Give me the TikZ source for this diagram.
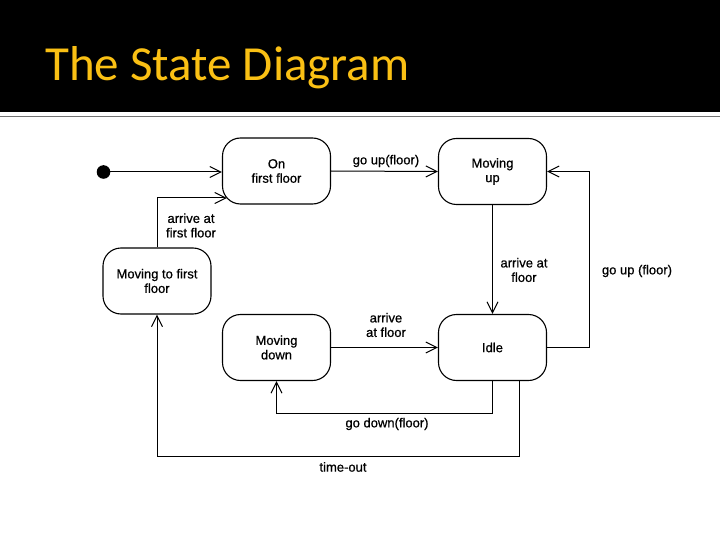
\documentclass[tikz,border=0pt]{standalone}
\usepackage{fontspec}
\setmainfont{Liberation Sans}
\newfontfamily\lblfont{Liberation Sans}[UprightFeatures={FakeBold=0.7}]
\newfontfamily\titlefont{Carlito}
\usetikzlibrary{arrows.meta,calc}
\definecolor{titleyellow}{RGB}{250,192,20}
\begin{document}
\begin{tikzpicture}[x=1pt,y=-1pt,
  statebox/.style={draw,line width=1.1pt,rounded corners=18pt,minimum width=108pt,minimum height=66pt,align=center,inner sep=2pt,font=\lblfont\fontsize{13}{14.5}\selectfont},
  lbl/.style={align=center,inner sep=1pt,font=\lblfont\fontsize{13}{14.5}\selectfont},
  arr/.style={line width=1pt,-{Straight Barb[length=11pt,width=11pt,line width=1pt]}},
  ln/.style={line width=1pt}]
\useasboundingbox (0,0) rectangle (720,540);
\fill[black] (0,0) rectangle (720,112);
\draw[line width=1.6pt,black!55] (0,116.6) -- (720,116.6);
\node[anchor=base west,inner sep=0pt,text=titleyellow,font=\titlefont\fontsize{49}{50}\selectfont] (title) at (45,81) {The State Diagram};

\fill (103.5,172) circle (6.8pt);
\coordinate (init) at (103.5,172);
\node[statebox] (onff) at (276.5,171) {On\\first floor};
\node[statebox] (mup) at (492.5,171.5) {Moving\\up};
\node[statebox] (idle) at (492.5,347.5) {Idle};
\node[statebox] (mdown) at (276.5,347.5) {Moving\\down};
\node[statebox] (mtff) at (157,281) {Moving to first\\floor};

\draw[arr] (init) -- (onff.west |- init);
\draw[arr] (onff.east) -- (mup.west);
\draw[arr] (mup.south) -- (idle.north);
\coordinate (gu) at (589,0);
\draw[arr] (idle.east) -| (gu |- mup.east) -- (mup.east);
\draw[arr] (mdown.east) -- (idle.west);
\coordinate (gd) at (0,413);
\draw[arr] (idle.south) |- (gd -| mdown.south) -- (mdown.south);
\coordinate (to) at (0,456.5);
\coordinate (idleto) at ($(idle.south)+(26.5,0)$);
\draw[arr] (idleto) |- (to -| mtff.south) -- (mtff.south);
\coordinate (aff) at ($(onff.west)+(4.8,27)$);
\draw[arr] (mtff.north) |- (aff);

\node[lbl] (l1) at (386,161) {go up(floor)};
\node[lbl] (l2) at (524,270) {arrive at\\floor};
\node[lbl] (l3) at (637,271) {go up (floor)};
\node[lbl] (l4) at (386,325) {arrive\\at floor};
\node[lbl] (l5) at (387,424) {go down(floor)};
\node[lbl] (l6) at (343,467) {time-out};
\node[lbl] (l7) at (191,225.5) {arrive at\\first floor};
\end{tikzpicture}
\end{document}
